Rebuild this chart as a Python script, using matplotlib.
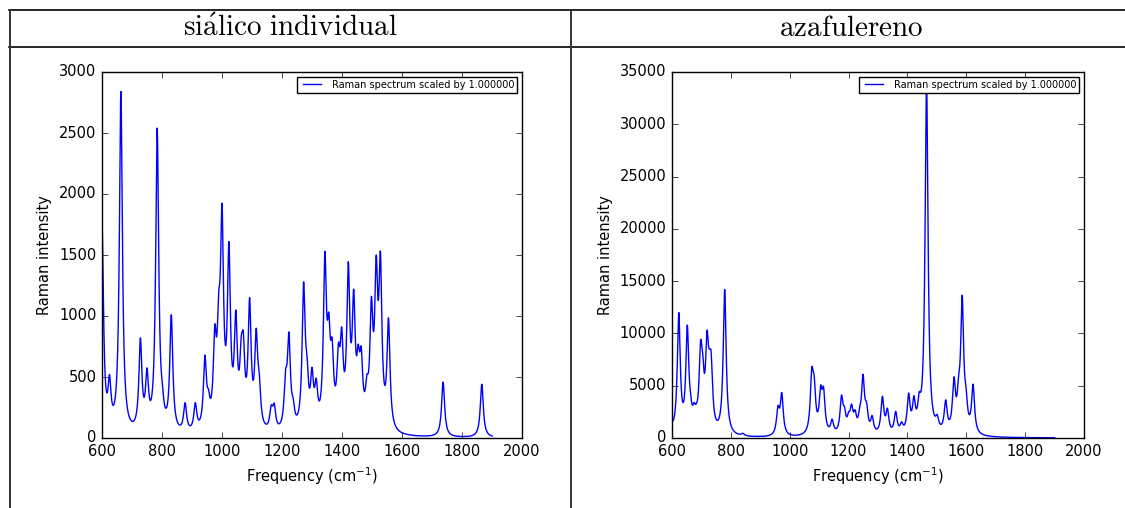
import numpy as np
import matplotlib
matplotlib.use('Agg')
import matplotlib.pyplot as plt
from matplotlib.lines import Line2D

# peaks: centre (cm-1) and apparent height
sialico_freq = [600, 625, 663, 728, 750, 772, 784, 801, 831, 877, 911, 943, 955,
                976, 989, 1000, 1023, 1046, 1064, 1071, 1092, 1114, 1124, 1164, 1174,
                1212, 1223, 1237, 1272, 1283, 1300, 1314, 1343, 1356, 1367, 1388, 1399,
                1421, 1439, 1454, 1464, 1483, 1498, 1514, 1528, 1555, 1737, 1866]
sialico_int = [1750, 520, 2840, 820, 575, 480, 2540, 450, 1010, 290, 290, 680, 400,
               930, 1200, 1925, 1610, 1050, 830, 870, 1150, 900, 540, 270, 285,
               560, 870, 330, 1280, 690, 580, 490, 1530, 1030, 820, 780, 910,
               1445, 1220, 770, 750, 520, 1160, 1500, 1530, 985, 458, 441]

aza_freq = [600, 623, 652, 663, 675, 683, 697, 704, 719, 727, 733, 779, 841, 960, 973,
            1075, 1083, 1105, 1115, 1144, 1176, 1186, 1200, 1210, 1222, 1238, 1249,
            1261, 1280, 1315, 1332, 1360, 1380, 1404, 1422, 1440, 1447, 1465, 1501,
            1530, 1558, 1574, 1586, 1599, 1623]
aza_int = [1500, 12000, 10800, 4300, 3400, 3300, 9300, 8200, 10300, 8500, 8200, 14200,
           450, 3100, 4350, 6750, 6000, 5050, 4900, 1800, 4100, 3000, 2500, 3250, 2700,
           3000, 6100, 3450, 2150, 4000, 2850, 2550, 1550, 4300, 4050, 4400, 3800,
           34000, 2250, 3650, 5850, 5950, 13650, 4900, 5150]

titles = ['siálico individual', 'azafulereno']
legend_text = 'Raman spectrum scaled by 1.000000'
gamma = 6.0  # half width of the lorentzian broadening


def broadened(freq, inten, x):
    c = np.array(freq, float)
    h = np.array(inten, float)
    A = 1.0 / (1.0 + ((c[:, None] - c[None, :]) / gamma) ** 2)
    amp = h.copy()
    for _ in range(300):
        amp *= h / (A @ amp)
    return (amp[None, :] / (1.0 + ((x[:, None] - c[None, :]) / gamma) ** 2)).sum(1)


x = np.arange(600, 1901, 0.5)

plt.style.use('classic')
plt.rcParams['figure.facecolor'] = 'white'
plt.rcParams['savefig.facecolor'] = 'white'
plt.rcParams['font.size'] = 10
plt.rcParams['mathtext.fontset'] = 'dejavusans'

fig = plt.figure(figsize=(11.25, 5.08), dpi=100)

# table lines
H, W = 508, 1125
for y in [10, 47]:
    fig.add_artist(Line2D([9 / W, 1], [1 - y / H, 1 - y / H], color='black', lw=1.2))
for xv in [9.5, 571]:
    fig.add_artist(Line2D([xv / W, xv / W], [0, 1 - 10 / H], color='#333333', lw=1.4))

fig.text(290 / W, 1 - 28 / H, r'$\mathrm{si\acute{a}lico\ individual}$', ha='center', va='center',
         fontsize=21, math_fontfamily='cm')
fig.text(851 / W, 1 - 28 / H, r'$\mathrm{azafulereno}$', ha='center', va='center',
         fontsize=21, math_fontfamily='cm')

boxes = [[102 / W, 1 - 438 / H, 420 / W, 366 / H],
         [672 / W, 1 - 438 / H, 412 / W, 366 / H]]
data = [(sialico_freq, sialico_int, 3000, 500), (aza_freq, aza_int, 35000, 5000)]

for box, (fr, it, ymax, ystep) in zip(boxes, data):
    ax = fig.add_axes(box)
    ax.plot(x, broadened(fr, it, x), color='b', lw=1.0, label=legend_text)
    ax.set_xlim(600, 2000)
    ax.set_ylim(0, ymax)
    ax.set_xticks(np.arange(600, 2001, 200))
    ax.set_yticks(np.arange(0, ymax + 1, ystep))
    ax.tick_params(labelsize=10.5)
    ax.set_xlabel('Frequency (cm$^{-1}$)', fontsize=10.5)
    ax.set_ylabel('Raman intensity', fontsize=10.5)
    ax.legend(loc='upper right', fontsize=7, handlelength=2.5, borderpad=0.3)

fig.savefig('out.png', dpi=100)
